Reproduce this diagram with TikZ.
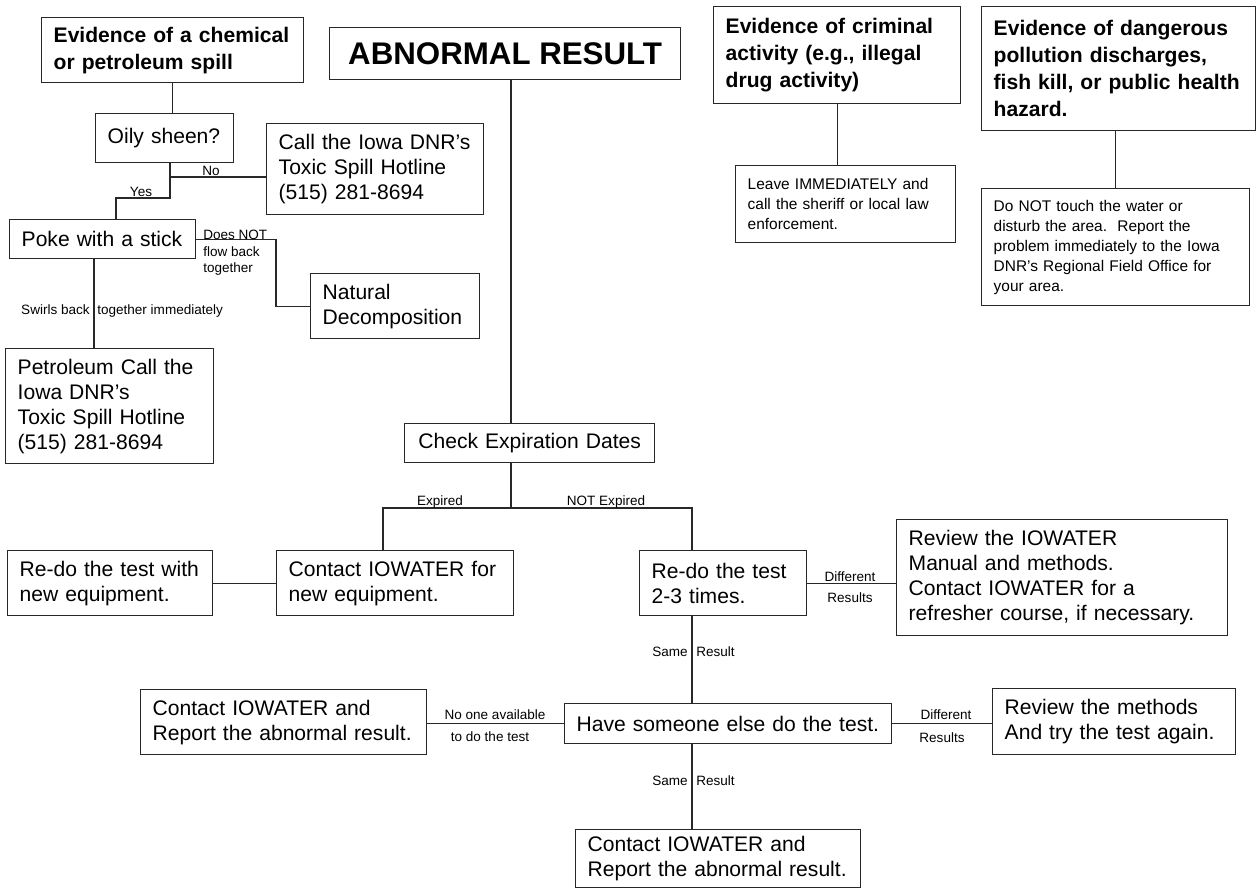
\documentclass[tikz,border=0pt]{standalone}
\usepackage{fontspec}
\setmainfont{Liberation Sans}
\definecolor{flowline}{RGB}{40,40,40}
\usetikzlibrary{positioning,calc}

\begin{document}
\begin{tikzpicture}[
    x=0.02cm, y=-0.02cm,
    stepbox/.style={rectangle, draw=flowline, line width=0.8pt, anchor=north west,
                    inner xsep=0.24cm, inner ysep=1pt, align=left,
                    font=\fontsize{12}{14.2}\selectfont},
    headbox/.style={stepbox, font=\fontsize{12}{15.3}\selectfont\bfseries},
    notebox/.style={stepbox, font=\fontsize{8.8}{11.4}\selectfont},
    lbl/.style={inner sep=0pt, font=\fontsize{7.7}{9.4}\selectfont},
    conn/.style={draw=flowline, line width=0.7pt}
  ]
    \fill[white] (0,0) rectangle (1257,894);
    \useasboundingbox (0,0) rectangle (1257,894);

    % Headers
    \node[headbox, text width=4.76cm, minimum height=1.30cm] (chem) at (41,17)
      {Evidence of a chemical\\or petroleum spill};
    \node[headbox, align=center, minimum width=7.02cm, minimum height=1.04cm,
          font=\fontsize{17.8}{20}\selectfont\bfseries] (abn) at (329,27)
      {ABNORMAL RESULT};
    \node[headbox, text width=4.46cm, minimum height=1.94cm] (crim) at (713,6)
      {Evidence of criminal\\activity (e.g., illegal\\drug activity)};
    \node[headbox, text width=5.00cm, minimum height=2.48cm] (dang) at (981,6)
      {Evidence of dangerous\\pollution discharges,\\fish kill, or public health\\hazard.};

    % Spill branch
    \node[stepbox, text width=2.28cm, minimum height=0.98cm] (oily) at (95,113) {Oily sheen?};
    \node[stepbox, text width=3.86cm, minimum height=1.82cm] (call) at (266,123)
      {Call the Iowa DNR's\\Toxic Spill Hotline\\(515) 281-8694};
    \node[stepbox, text width=3.24cm, minimum height=0.78cm] (poke) at (9,219) {Poke with a stick};
    \node[stepbox, text width=2.90cm, minimum height=1.30cm] (natural) at (310,273)
      {Natural\\Decomposition};
    \node[stepbox, text width=3.68cm, minimum height=2.30cm] (petro) at (5,348)
      {Petroleum Call the\\Iowa DNR's\\Toxic Spill Hotline\\(515) 281-8694};

    \coordinate (oj) at (170,177);
    \coordinate (yc) at (116,198);
    \coordinate (dn) at (276,280);
    \coordinate (sw) at (94,314);
    \draw[conn] (chem.south) -- (chem.south |- oily.north);
    \draw[conn] (oily.south -| oj) -- (oj |- yc) -- (yc) -- (yc |- poke.north);
    \draw[conn] (oj) -- (oj -| call.west);
    \draw[conn] (poke.east) -| (dn) |- (natural.west);
    \draw[conn] (poke.south -| sw) -- (petro.north -| sw);
    \node[lbl] (lno) at (211,171) {No};
    \node[lbl] (lyes) at (141,192) {Yes};
    \node[lbl, anchor=north west, align=left] (ldn) at (203,230) {Does NOT\\flow back\\together};
    \node[lbl, anchor=base east] (lsw) at ([xshift=-0.08cm]sw) {Swirls back};
    \node[lbl, anchor=base west] (lsw2) at ([xshift=0.06cm]sw) {together immediately};

    % Criminal and pollution
    \node[notebox, text width=3.92cm, minimum height=1.54cm] (leave) at (735,165)
      {Leave IMMEDIATELY and\\call the sheriff or local law\\enforcement.};
    \node[notebox, text width=4.88cm, minimum height=2.34cm] (donot) at (981,188)
      {Do NOT touch the water or\\disturb the area.\ \ Report the\\problem immediately to the Iowa\\DNR's Regional Field Office for\\your area.};
    \draw[conn] (crim.south) -- (crim.south |- leave.north);
    \draw[conn] (donot.north) -- (donot.north |- dang.south);

    % Expiration check
    \node[stepbox, align=center, text width=4.52cm, minimum height=0.78cm] (check) at (404,423)
      {Check Expiration Dates};
    \node[stepbox, text width=3.62cm, minimum height=1.30cm] (redonew) at (7,550)
      {Re-do the test with\\new equipment.};
    \node[stepbox, text width=4.26cm, minimum height=1.30cm] (contactnew) at (276,550)
      {Contact IOWATER for\\new equipment.};
    \node[stepbox, text width=2.86cm, minimum height=1.30cm] (redo) at (639,550)
      {Re-do the test\\2-3 times.};
    \node[stepbox, text width=6.14cm, minimum height=2.32cm] (review) at (896,519)
      {Review the IOWATER\\Manual and methods.\\Contact IOWATER for a\\refresher course, if necessary.};

    \coordinate (aj) at (511,508);
    \coordinate (ajl) at (383,508);
    \coordinate (ajr) at (692,508);
    \draw[conn] (abn.south -| aj) -- (check.north -| aj);
    \draw[conn] (check.south -| aj) -- (aj);
    \draw[conn] (contactnew.north -| ajl) -- (ajl) -- (ajr) -- (redo.north -| ajr);
    \draw[conn] (redonew.east) -- (contactnew.west);
    \draw[conn] (redo.east) -- (redo.east -| review.west);
    \node[lbl] (lexp) at (440,502) {Expired};
    \node[lbl] (lnexp) at (606,502) {NOT Expired};
    \node[lbl] (ldiff) at (850,577) {Different};
    \node[lbl] (lres) at (850,598) {Results};

    % Second opinion
    \node[stepbox, text width=5.24cm, minimum height=1.30cm] (report) at (140,689)
      {Contact IOWATER and\\Report the abnormal result.};
    \node[stepbox, text width=6.06cm, minimum height=0.80cm] (have) at (564,703)
      {Have someone else do the test.};
    \node[stepbox, text width=4.38cm, minimum height=1.32cm] (methods) at (992,688)
      {Review the methods\\And try the test again.};
    \node[stepbox, text width=5.22cm, minimum height=1.16cm] (reportb) at (575,829)
      {Contact IOWATER and\\Report the abnormal result.};

    \draw[conn] (redo.south -| ajr) -- (have.north -| ajr);
    \draw[conn] (have.west) -- (have.west -| report.east);
    \draw[conn] (have.east) -- (have.east -| methods.west);
    \draw[conn] (have.south -| ajr) -- (reportb.north -| ajr);
    \node[lbl, anchor=east] (lsame) at (688,652) {Same};
    \node[lbl, anchor=west] (lresult) at (696,652) {Result};
    \node[lbl] (lnone) at (495,715) {No one available};
    \node[lbl] (lnone2) at (490,737) {to do the test};
    \node[lbl] (ldiff2) at (946,715) {Different};
    \node[lbl] (lres2) at (942,738) {Results};
    \node[lbl, anchor=east] (lsame2) at (688,781) {Same};
    \node[lbl, anchor=west] (lresult2) at (696,781) {Result};
  \end{tikzpicture}
\end{document}
